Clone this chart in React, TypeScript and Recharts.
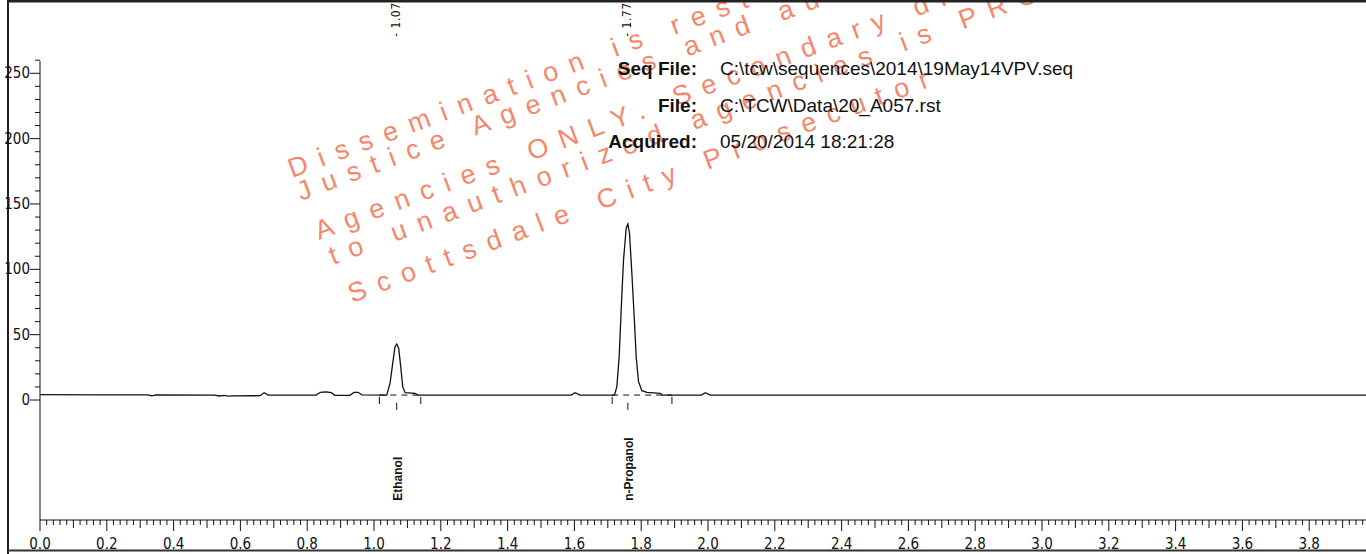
import { ComposedChart, Customized, Line, ReferenceLine, Scatter, XAxis, YAxis } from "recharts";

// retention time (min) and detector response
const times = [
  0, 0.18, 0.323, 0.335, 0.347, 0.524, 0.536, 0.551, 0.563, 0.575, 0.659, 0.671, 0.683,
  0.827, 0.839, 0.857, 0.872, 0.883, 0.928, 0.94, 0.952, 0.964,
  1.038, 1.048, 1.056, 1.063, 1.068, 1.074, 1.08, 1.086, 1.093, 1.114, 1.123, 1.132,
  1.59, 1.602, 1.617,
  1.72, 1.727, 1.734, 1.74, 1.747, 1.755, 1.76, 1.765, 1.772, 1.779, 1.785, 1.792, 1.802, 1.817, 1.857, 1.863,
  1.98, 1.992, 2.007, 3.97,
];
const signal = [
  4.2, 4.0, 4.0, 3.2, 3.9, 3.8, 3.1, 3.6, 3.0, 3.2, 3.3, 5.6, 3.8,
  3.8, 5.9, 6.3, 5.6, 3.6, 3.6, 5.8, 5.9, 4.0,
  3.8, 12.7, 28, 40.8, 42.8, 39.5, 25.5, 10.2, 5.6, 5.3, 5.0, 3.8,
  3.8, 5.6, 3.8,
  3.8, 10.2, 33, 68.9, 107, 131.3, 134.7, 127.5, 97, 63.7, 33, 14, 7.1, 5.9, 5.1, 3.8,
  3.8, 5.6, 3.8, 3.8,
];

const peakNames = ["Ethanol", "n-Propanol"];
const peakLabels = ["1.07", "1.77"];
const peakApex = [1.068, 1.76];
const peakStart = [1.016, 1.713];
const peakEnd = [1.14, 1.892];
const baselineLevel = 3.8;

const xLabels = ["0.0", "0.2", "0.4", "0.6", "0.8", "1.0", "1.2", "1.4", "1.6", "1.8", "2.0", "2.2", "2.4", "2.6", "2.8", "3.0", "3.2", "3.4", "3.6", "3.8"];
const yLabels = [0, 50, 100, 150, 200, 250];

const headerKeys = ["Seq File:", "File:", "Acquired:"];
const headerValues = ["C:\\tcw\\sequences\\2014\\19May14VPV.seq", "C:\\TCW\\Data\\20_A057.rst", "05/20/2014 18:21:28"];

const watermark = [
  "Dissemination is restricted to Criminal",
  "Justice Agencies and authorized Non-Criminal",
  "Agencies ONLY. Secondary dissemination",
  "to unauthorized agencies is PROHIBITED.",
  "Scottsdale City Prosecutor",
];
const watermarkStarts = [
  [292, 178],
  [301, 201],
  [319, 240],
  [333, 265],
  [352, 303],
];

const trace = times.map((t, i) => ({ t, v: signal[i] }));
const peaks = peakApex.map((t, i) => ({ t, v: -2.1, name: peakNames[i], rt: peakLabels[i] }));

const xTicks: number[] = [];
for (let i = 0; i <= 198; i++) xTicks.push(i / 50);
const yTicks: number[] = [];
for (let i = 0; i <= 26; i++) yTicks.push(i * 10);

const narrow = "'Liberation Sans Narrow', 'Arial Narrow', 'DejaVu Sans Condensed', sans-serif";
const sans = "'Liberation Sans', Arial, Helvetica, sans-serif";

function XTick(props: any) {
  const { x, y, payload } = props;
  const step = Math.round(payload.value * 50);
  const len = step % 10 === 0 ? 11 : step % 5 === 0 ? 8 : 5;
  const label = xLabels.indexOf(payload.value.toFixed(1));
  return (
    <g>
      <line x1={x} x2={x} y1={y} y2={y + len} stroke="#111" strokeWidth={1} />
      {step % 10 === 0 && label >= 0 ? (
        <text x={x} y={y + 29} textAnchor="middle" fontSize={15} fontFamily={narrow} fill="#111">
          {xLabels[label]}
        </text>
      ) : null}
    </g>
  );
}

function YTick(props: any) {
  const { x, y, payload } = props;
  const major = yLabels.includes(payload.value);
  return (
    <g>
      <line x1={x - (major ? 10 : 5)} x2={x} y1={y} y2={y} stroke="#111" strokeWidth={1} />
      {major ? (
        <text x={x - 10} y={y + 5} textAnchor="end" fontSize={15} fontFamily={narrow} fill="#111">
          {payload.value}
        </text>
      ) : null}
    </g>
  );
}

function PeakMark(props: any) {
  const { cx, cy, payload } = props;
  return (
    <g>
      <line x1={cx} x2={cx} y1={cy} y2={cy + 7} stroke="#111" strokeWidth={1} />
      <text
        transform={`translate(${cx + 5},${cy + 98}) rotate(-90)`}
        fontSize={12}
        fontWeight={700}
        fontFamily={sans}
        fill="#111"
      >
        {payload.name}
      </text>
      <text
        transform={`translate(${cx + 3},${cy - 366}) rotate(-90)`}
        fontSize={12}
        letterSpacing={0.5}
        fontFamily={narrow}
        fill="#111"
      >
        {"- " + payload.rt}
      </text>
    </g>
  );
}

function Decor() {
  return (
    <g>
      {watermark.map((line, i) => (
        <text
          key={line}
          transform={`translate(${watermarkStarts[i][0]},${watermarkStarts[i][1]}) rotate(-20.5)`}
          fontSize={27}
          letterSpacing={12}
          fontFamily={sans}
          fill="#F4876C"
        >
          {line}
        </text>
      ))}
      {headerKeys.map((k, i) => (
        <g key={k}>
          <text x={697} y={75 + i * 36.5} textAnchor="end" fontSize={19} fontWeight={700} fontFamily={sans} fill="#111">
            {k}
          </text>
          <text x={720} y={75 + i * 36.5} fontSize={19} fontFamily={sans} fill="#111">
            {headerValues[i]}
          </text>
        </g>
      ))}
      <line x1={8} x2={8} y1={0} y2={554} stroke="#222" strokeWidth={2} />
      <line x1={8} x2={1366} y1={1} y2={1} stroke="#222" strokeWidth={3} />
      <line x1={8} x2={1366} y1={550.5} y2={550.5} stroke="#333" strokeWidth={2} />
    </g>
  );
}

export default function App() {
  return (
    <div style={{ width: 1366, height: 554, background: "#fff" }}>
      <style>{"body{margin:0}"}</style>
      <ComposedChart width={1366} height={554} margin={{ top: 61, right: 0, bottom: 0, left: 0 }}>
        <Customized component={Decor} />
        <XAxis
          dataKey="t"
          type="number"
          domain={[0, 3.97]}
          ticks={xTicks}
          interval={0}
          height={34}
          tickSize={0}
          tickMargin={0}
          tick={<XTick />}
          axisLine={{ stroke: "#111", strokeWidth: 1 }}
          tickLine={false}
        />
        <YAxis
          type="number"
          domain={[-91.8, 259.4]}
          ticks={yTicks}
          interval={0}
          width={40}
          tickSize={0}
          tickMargin={0}
          tick={<YTick />}
          axisLine={{ stroke: "#111", strokeWidth: 1 }}
          tickLine={false}
        />
        {peakStart.map((s, i) => (
          <ReferenceLine
            key={"base" + i}
            segment={[{ x: s, y: baselineLevel }, { x: peakEnd[i], y: baselineLevel }]}
            stroke="#111"
            strokeDasharray="6 5"
          />
        ))}
        {peakStart.map((s, i) => (
          <ReferenceLine key={"s" + i} segment={[{ x: s, y: 2.5 }, { x: s, y: -3.1 }]} stroke="#111" />
        ))}
        {peakEnd.map((e, i) => (
          <ReferenceLine key={"e" + i} segment={[{ x: e, y: 2.5 }, { x: e, y: -3.1 }]} stroke="#111" />
        ))}
        <Line data={trace} dataKey="v" type="linear" dot={false} stroke="#111" strokeWidth={1.3} isAnimationActive={false} />
        <Scatter data={peaks} dataKey="v" shape={<PeakMark />} isAnimationActive={false} />
      </ComposedChart>
    </div>
  );
}
